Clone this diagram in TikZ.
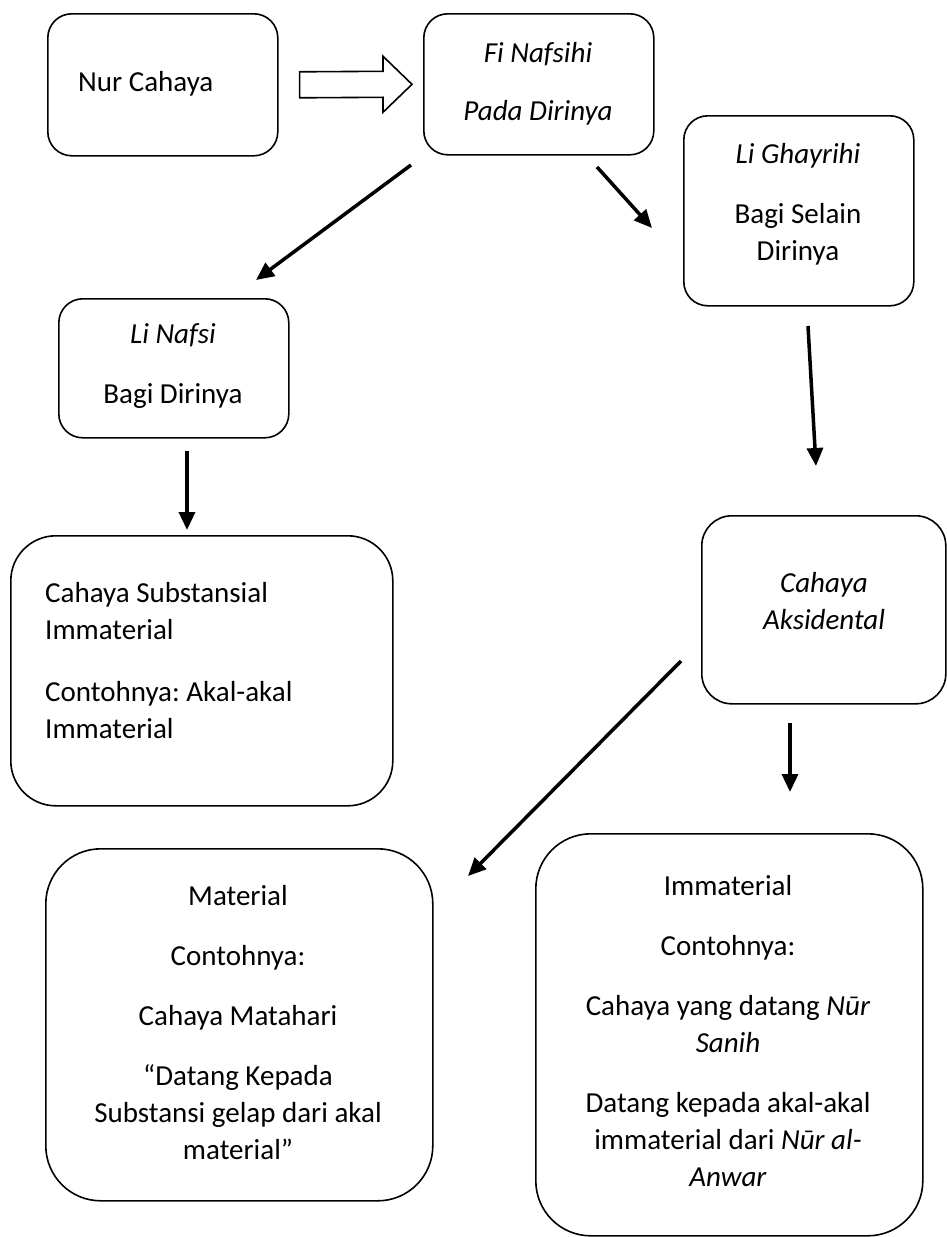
\documentclass[tikz,border=0pt]{standalone}
\usepackage{fontspec}
\setmainfont{Carlito}
\frenchspacing
\usetikzlibrary{arrows.meta,calc}
\begin{document}
\begin{tikzpicture}[x=1pt,y=-1pt,
  box/.style={draw, line width=1.6pt, rounded corners=#1, inner sep=0pt, anchor=north west},
  box/.default=24pt,
  txt/.style={inner sep=0pt, font=\fontsize{29}{37}\selectfont\frenchspacing, align=center, anchor=north},
  ittxt/.style={txt, font=\fontsize{29}{37}\selectfont\frenchspacing\itshape},
  arr/.style={line width=3.5pt, -{Triangle[length=18pt,width=16pt]}},
  hollow/.style={draw, line width=1.6pt, line join=miter, fill=white},
]
\useasboundingbox (0,0) rectangle (946,1237);

% boxes
\node[box, minimum width=230pt, minimum height=142pt] (nur) at (47,13) {};
\node[box, minimum width=230pt, minimum height=141pt] (fi) at (423,13) {};
\node[box, minimum width=230pt, minimum height=190pt] (lgh) at (683,115) {};
\node[box, minimum width=230pt, minimum height=139pt] (lnf) at (58,298) {};
\node[box=45pt, minimum width=382pt, minimum height=270pt] (sub) at (10,535) {};
\node[box=30pt, minimum width=244pt, minimum height=188pt] (aks) at (701,515) {};
\node[box=55pt, minimum width=387pt, minimum height=352pt] (mat) at (45,848) {};
\node[box=55pt, minimum width=387pt, minimum height=402pt] (imm) at (535,833) {};

% texts
\node[txt, anchor=north west, align=left] (nurt) at (78,65.1) {\strut Nur Cahaya};
\node[ittxt] (fit) at (538,36.1) {\strut Fi Nafsihi\\[21pt] Pada Dirinya};
\node[txt] (lght) at (798,137.1) {\strut\textit{Li Ghayrihi}\\[23pt] Bagi Selain\\ Dirinya};
\node[txt] (lnft) at (173,317.1) {\strut\textit{Li Nafsi}\\[23pt] Bagi Dirinya};
\node[txt, anchor=north west, align=left] (subt) at (45,576.1) {\strut Cahaya Substansial\\ Immaterial\\[25pt] Contohnya: Akal-akal\\ Immaterial};
\node[ittxt] (akst) at (824,566.1) {\strut Cahaya\\ Aksidental};
\node[txt] (matt) at (238,879.1) {\strut Material\\[23pt] Contohnya:\\[23pt] Cahaya Matahari\\[23pt] “Datang Kepada\\ Substansi gelap dari akal\\ material”};
\node[txt] (immt) at (728,869.1) {\strut Immaterial\\[23pt] Contohnya:\\[23pt] Cahaya yang datang \textit{Nūr}\\ \textit{Sanih}\\[23pt] Datang kepada akal-akal\\ immaterial dari \textit{Nūr al-}\\ \textit{Anwar}};

% hollow arrow between Nur Cahaya and Fi Nafsihi
\coordinate (hs) at ($(nur.east)+(21,0)$);
\coordinate (ht) at ($(fi.west)+(-11,0)$);
\draw[hollow] ($(hs)+(0,-13)$) -- ($(ht)+(-29,-13)$) -- ($(ht)+(-29,-28)$) -- (ht)
  -- ($(ht)+(-29,28)$) -- ($(ht)+(-29,13)$) -- ($(hs)+(0,13)$) -- cycle;

% arrow end points
\coordinate (a1s) at (411,165);  \coordinate (a1e) at (256,280);
\coordinate (a2s) at (597,167);  \coordinate (a2e) at (652,228);
\coordinate (a3s) at (808,326);  \coordinate (a3e) at (816,466);
\coordinate (a4s) at (187,451);  \coordinate (a4e) at (187,530);
\coordinate (a5s) at (681,661);  \coordinate (a5e) at (468,876);
\coordinate (a6s) at (790,723);  \coordinate (a6e) at (790,792);

\draw[arr] (a1s) -- (a1e);
\draw[arr] (a2s) -- (a2e);
\draw[arr] (a3s) -- (a3e);
\draw[arr] (a4s) -- (a4e);
\draw[arr] (a5s) -- (a5e);
\draw[arr] (a6s) -- (a6e);
\end{tikzpicture}
\end{document}
